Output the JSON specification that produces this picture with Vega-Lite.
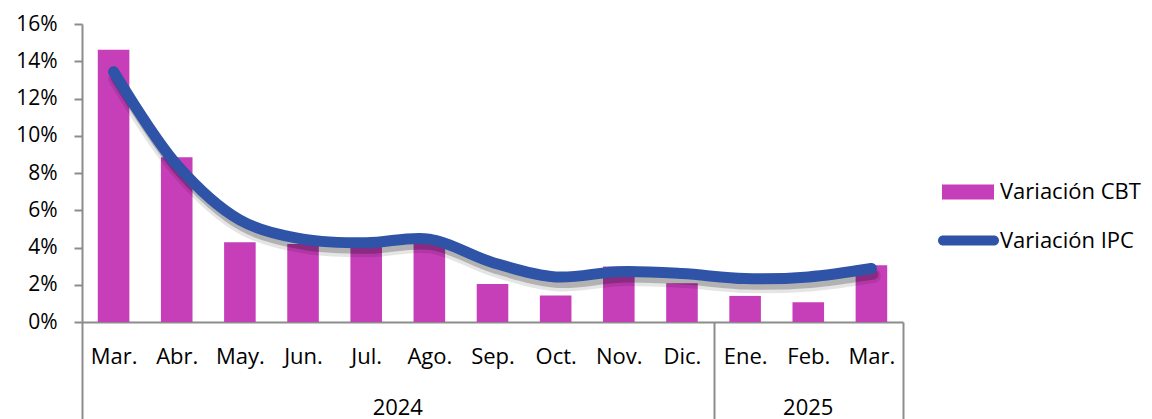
{
  "$schema": "https://vega.github.io/schema/vega-lite/v6.json",
  "autosize": {"type": "none"},
  "padding": {"left": 82, "top": 24, "right": 249, "bottom": 97},
  "width": 821,
  "height": 298,
  "background": "white",
  "config": {"font": "Open Sans", "view": {"stroke": null}},
  "data": {"values": [
    {"periodo": "Mar. 2024", "cbt": 0.1462, "ipc": 0.1344},
    {"periodo": "Abr. 2024", "cbt": 0.0885, "ipc": 0.0845},
    {"periodo": "May. 2024", "cbt": 0.0428, "ipc": 0.0548},
    {"periodo": "Jun. 2024", "cbt": 0.0419, "ipc": 0.0445},
    {"periodo": "Jul. 2024", "cbt": 0.0410, "ipc": 0.0425},
    {"periodo": "Ago. 2024", "cbt": 0.0420, "ipc": 0.0445},
    {"periodo": "Sep. 2024", "cbt": 0.0204, "ipc": 0.0320},
    {"periodo": "Oct. 2024", "cbt": 0.0142, "ipc": 0.0242},
    {"periodo": "Nov. 2024", "cbt": 0.0298, "ipc": 0.0270},
    {"periodo": "Dic. 2024", "cbt": 0.0208, "ipc": 0.0260},
    {"periodo": "Ene. 2025", "cbt": 0.0140, "ipc": 0.0233},
    {"periodo": "Feb. 2025", "cbt": 0.0106, "ipc": 0.0242},
    {"periodo": "Mar. 2025", "cbt": 0.0305, "ipc": 0.0287}
  ]},
  "layer": [
    {
      "mark": {"type": "bar", "width": {"band": 0.5}},
      "encoding": {
        "x": {"field": "periodo", "type": "nominal", "sort": null,
          "scale": {"paddingInner": 0, "paddingOuter": 0},
          "axis": {"title": null, "orient": "bottom",
            "labelExpr": "isString(datum.value) ? split(datum.value, ' ')[0] : ''", "labelAngle": 0,
            "labelFontSize": 22, "labelColor": "#000000", "labelBaseline": "middle", "labelPadding": -63,
            "labelOverlap": false,
            "tickBand": "extent", "tickSize": 97, "tickWidth": 2,
            "tickColor": {"condition": {"test": "datum.extra || datum.value === 'Dic. 2024' || datum.value === 'Mar. 2025'", "value": "#8C8C8C"}, "value": "rgba(0,0,0,0)"},
            "domainColor": "#8C8C8C", "domainWidth": 2}},
        "y": {"field": "cbt", "type": "quantitative", "scale": {"domain": [0, 0.16]},
          "axis": {"title": null, "orient": "left", "format": ".0%", "values": [0, 0.02, 0.04, 0.06, 0.08, 0.1, 0.12, 0.14, 0.16],
            "grid": false, "tickSize": 8, "tickWidth": 2, "tickColor": "#8C8C8C",
            "domainColor": "#8C8C8C", "domainWidth": 2, "labelFontSize": 21, "labelColor": "#000000", "labelPadding": 17}},
        "fill": {"datum": "Variación CBT", "type": "nominal", "scale": {"range": ["#C73EB9"]},
          "legend": {"title": null, "orient": "none", "legendX": 860, "legendY": 142, "padding": 0,
            "symbolType": "M-1,-0.29H1V0.29H-1Z", "symbolSize": 2704, "symbolStrokeWidth": 0,
            "labelFontSize": 22, "labelColor": "#000000", "labelOffset": 6}}
      }
    },
    {
      "mark": {"type": "line", "interpolate": "catmull-rom", "color": "#000000", "opacity": 0.1, "strokeWidth": 15, "strokeCap": "round", "xOffset": 2, "yOffset": 7},
      "encoding": {
        "x": {"field": "periodo", "type": "nominal", "sort": null, "axis": null},
        "y": {"field": "ipc", "type": "quantitative", "axis": null}
      }
    },
    {
      "mark": {"type": "line", "interpolate": "catmull-rom", "color": "#000000", "opacity": 0.22, "strokeWidth": 10, "strokeCap": "round", "xOffset": 2, "yOffset": 6},
      "encoding": {
        "x": {"field": "periodo", "type": "nominal", "sort": null, "axis": null},
        "y": {"field": "ipc", "type": "quantitative", "axis": null}
      }
    },
    {
      "mark": {"type": "line", "interpolate": "catmull-rom", "strokeWidth": 11, "strokeCap": "round", "strokeJoin": "round"},
      "encoding": {
        "x": {"field": "periodo", "type": "nominal", "sort": null,
          "axis": {"title": null, "orient": "bottom", "domain": false, "ticks": false, "labelAngle": 0,
            "labelExpr": "datum.value === 'Jul. 2024' ? '2024' : (datum.value === 'Feb. 2025' ? '2025' : '')",
            "labelOffset": {"condition": {"test": "datum.value === 'Jul. 2024'", "value": 31.6}, "value": 0},
            "labelFontSize": 22, "labelColor": "#000000", "labelBaseline": "middle", "labelPadding": 85, "labelOverlap": false}},
        "y": {"field": "ipc", "type": "quantitative", "axis": null},
        "stroke": {"datum": "Variación IPC", "type": "nominal", "scale": {"range": ["#2F54A7"]},
          "legend": {"title": null, "orient": "none", "legendX": 856, "legendY": 186, "padding": 0,
            "symbolType": "M-0.836,-0.164H0.836A0.164,0.164 0 0 1 0.836,0.164H-0.836A0.164,0.164 0 0 1 -0.836,-0.164Z",
            "symbolSize": 3721, "symbolStrokeWidth": 0, "symbolFillColor": "#2F54A7",
            "labelFontSize": 22, "labelColor": "#000000", "labelOffset": 1}}
      }
    }
  ],
  "resolve": {"axis": {"x": "independent", "y": "independent"}}
}
